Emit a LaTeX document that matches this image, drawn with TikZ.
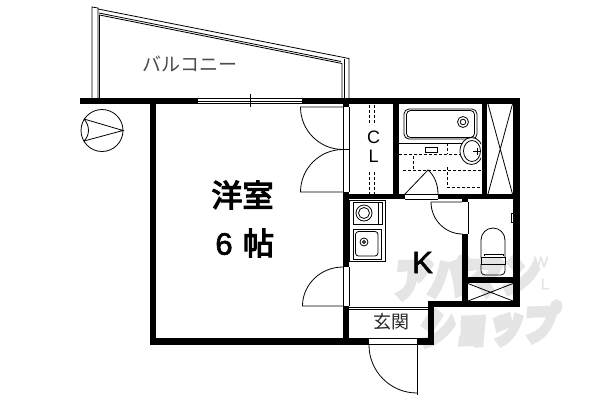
\documentclass[tikz,border=0pt]{standalone}
\usepackage{fontspec}
\setmainfont{Liberation Sans}
\newfontfamily\jp{Noto Sans CJK JP}
\newfontfamily\jpb[FakeBold=4]{Noto Sans CJK JP}
\newfontfamily\jpw[FakeBold=14]{Noto Sans CJK JP Bold}
\newfontfamily\nb[FakeBold=2]{Liberation Sans}
\newcommand{\wall}[4]{\fill[black] (#1,#2) rectangle (#3,#4);}
\tikzset{thinl/.style={line width=0.8pt,black},
 dashl/.style={line width=0.8pt,black,dash pattern=on 3pt off 2pt},
 labelnode/.style={inner sep=0pt,outer sep=0pt,anchor=center},
 wm/.style={inner sep=0pt,text=black!10,transform shape,xscale=0.82,xslant=0.15,rotate=2}}
\begin{document}
\begin{tikzpicture}[x=1pt,y=-1pt]
\useasboundingbox (0,0) rectangle (600,400);
\fill[white] (0,0) rectangle (600,400);
% watermark
\node[wm] (w1) at (467,276) {\jpw\fontsize{44}{44}\selectfont アパマン};
\node[wm] (w2) at (490,325) {\jpw\fontsize{42}{42}\selectfont ショップ};
\node[inner sep=0pt,text=black!10] (w3) at (541,262) {\nb\fontsize{15}{15}\selectfont W};
\node[inner sep=0pt,text=black!10] (w4) at (545,284) {\nb\fontsize{15}{15}\selectfont L};
% balcony
\draw[thinl] (92,98) -- (92,7) -- (98,8) -- (98,98);
\draw[thinl] (99.5,98) -- (99.5,15) -- (342,63.5) -- (342,98);
\draw[thinl] (99,13) -- (341,61.5);
\draw[thinl] (98,9) -- (349,58.5) -- (349,98);
\draw[thinl] (344,59) -- (344,98);
% walls
\wall{80}{98}{198}{104}
\wall{302}{98}{520}{104}
\wall{150}{104}{156}{345}
\wall{150}{338}{369}{345}
\wall{417}{338}{434}{345}
\wall{428}{301}{434}{345}
\wall{428}{301}{520}{307}
\wall{513}{98}{520}{307}
\wall{343}{104}{349}{107}
\wall{343}{192}{349}{267}
\wall{343}{306}{349}{345}
\wall{343}{194}{405}{199}
\wall{438}{194}{520}{199}
\wall{393}{104}{399}{194}
\wall{482}{104}{487}{194}
\wall{462}{199}{468}{202}
\wall{462}{234}{468}{303}
\wall{468}{277}{513}{283}
% window
\draw[thinl] (198,98.5) -- (302,98.5) (198,101) -- (302,101) (198,103.5) -- (302,103.5);
\draw[thinl] (250,94) -- (250,107);
% compass
\draw[thinl] (102,130.5) circle (21);
\draw[thinl] (84,119) -- (123,130.5) -- (84,141);
\draw[thinl] (84,119) .. controls (90,126) and (90,135) .. (84,141);
% jambs
\draw[thinl] (343,107) -- (343,192) (349,107) -- (349,192) (343,149) -- (349,149);
\draw[thinl] (343,267) -- (343,306) (349,267) -- (349,306);
% room doors
\draw[thinl] (343,107) -- (300.5,107) arc[start angle=180,end angle=90,radius=42.5];
\draw[thinl] (343,192) -- (300.5,192) arc[start angle=180,end angle=270,radius=42.5];
\draw[thinl] (343,306) -- (302.5,306) arc[start angle=180,end angle=270,x radius=40.5,y radius=39];
% CL
\draw[dashl] (369.5,105) -- (369.5,125) (374,105) -- (374,125) (369.5,172) -- (369.5,194) (374,172) -- (374,194);
\node[labelnode] (c) at (373.6,137) {\fontsize{18}{18}\selectfont C};
\node[labelnode] (l) at (373.6,156) {\fontsize{18}{18}\selectfont L};
% bath
\draw[thinl,rounded corners=5pt] (404,109) rectangle (477,139);
\draw[thinl,rounded corners=4pt] (406.5,110.5) rectangle (474.5,137.5);
\draw[thinl] (463,122) circle (5.5) (463,122) circle (2.8);
\draw[thinl] (399,143) -- (481,143);
\draw[thinl] (425,147) rectangle (437,152);
\draw[dashl] (399,154) -- (460,154) (447,143) -- (447,154) (413,156) -- (413,170) (403,170) -- (481,170) (447,167) -- (447,186) (447,187) -- (480,187);
\begin{scope}
\clip (455,130) rectangle (481,170);
\fill[white] (471.5,151) ellipse (11.5 and 13.5);
\draw[thinl] (471.5,151) ellipse (11.5 and 13.5);
\draw[thinl] (472,151) ellipse (8.5 and 10.5);
\end{scope}
\draw[thinl] (473,151) -- (481,151) (477,147.5) -- (477,154.5);
% bath door
\fill[white] (405,194) -- (428,170) .. controls (434,175) and (438,184) .. (438,194) -- cycle;
\draw[thinl] (405,194) -- (428,170) .. controls (434,175) and (438,184) .. (438,194);
\draw[thinl] (405,194.5) -- (438,194.5) (405,199) -- (438,199);
% closet
\draw[thinl] (488,104) -- (512.5,194) (512.5,104) -- (488,194);
% kitchen
\draw[thinl] (349.5,200) rectangle (385.5,261);
\draw[thinl] (353,202.5) rectangle (382.5,224) (378,202.5) -- (378,224);
\draw[thinl] (364,213) circle (8) (364,213) circle (5.5);
\draw[thinl] (353,229) rectangle (381,259);
\draw[thinl,rounded corners=3pt] (355.5,231.5) rectangle (378,256);
\draw[thinl] (364,242) circle (4) (364,242) circle (1.5);
% K door
\draw[thinl] (462,202) -- (431,202) arc[start angle=180,end angle=90,x radius=31.5,y radius=32];
\draw[thinl] (462,202) -- (462,199) (468,202) -- (468,234);
% toilet
\draw[thinl] (481,258) -- (481,240) arc[start angle=180,end angle=360,radius=12] -- (505,258);
\draw[thinl] (481,257) rectangle (505,264);
\draw[thinl] (484,256) -- (484,254) -- (503,254) -- (503,256);
\draw[thinl,rounded corners=4pt] (481,264) -- (481,275) -- (505,275) -- (505,264);
\draw[thinl] (511,213.5) rectangle (513,222);
% lower closet
\draw[thinl] (468,283.5) -- (513,301) (513,283.5) -- (468,301);
% genkan
\draw[thinl] (349,307) -- (428,307) (349,309.5) -- (428,309.5);
\draw[thinl] (369,338.5) -- (417,338.5) (369,344.5) -- (417,344.5);
\draw[thinl] (417,345) -- (417,395);
\draw[thinl] (369,345) arc[start angle=180,end angle=90,radius=48];
% labels
\node[labelnode,text=black!70] (b) at (190,64) {\jp\fontsize{19}{19}\selectfont バルコニー};
\node[labelnode] (y) at (242.5,195) {\jpb\fontsize{31}{31}\selectfont 洋室};
\node[labelnode] (s) at (224,244) {\nb\fontsize{31}{31}\selectfont 6};
\node[labelnode] (h) at (258.5,243) {\jpb\fontsize{31}{31}\selectfont 帖};
\node[labelnode] (k) at (422.5,262.5) {\nb\fontsize{31}{31}\selectfont K};
\node[labelnode,text=black!85] (g) at (391,322) {\jp\fontsize{18}{18}\selectfont 玄関};
\end{tikzpicture}
\end{document}
